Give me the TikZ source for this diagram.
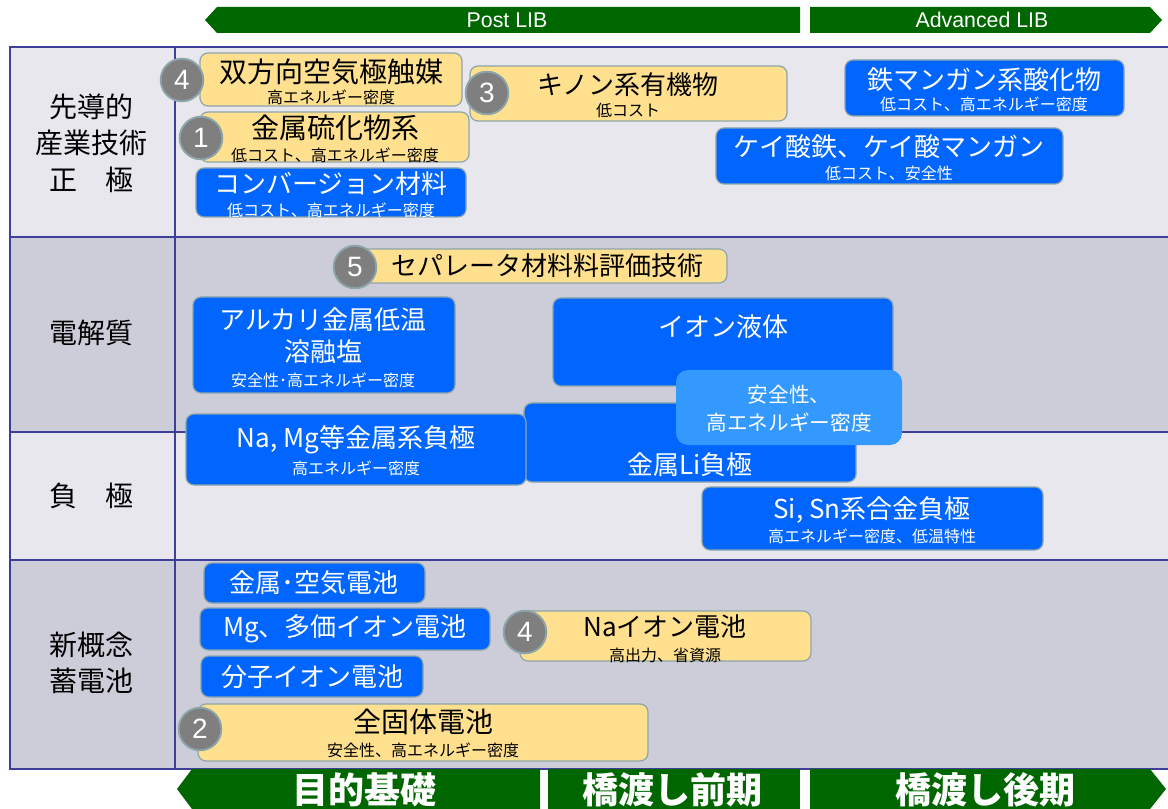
\documentclass[tikz,border=0pt]{standalone}
\usepackage{fontspec}
\setmainfont{Liberation Sans}
\newfontfamily\jp{Noto Sans CJK JP}
\usetikzlibrary{fit}

\definecolor{rowlight}{HTML}{E8E7EE}
\definecolor{rowdark}{HTML}{CDCDD9}
\definecolor{gridline}{HTML}{3F3F99}
\definecolor{bargreen}{HTML}{006600}
\definecolor{ybox}{HTML}{FFE08E}
\definecolor{bbox}{HTML}{0066FF}
\definecolor{lbox}{HTML}{3399FF}
\definecolor{edge}{HTML}{8CA5AA}
\definecolor{numfill}{HTML}{7F7F7F}

\begin{document}
\begin{tikzpicture}[x=0.75pt,y=-0.75pt,
  yb/.style={rectangle,rounded corners=6pt,draw=edge,fill=ybox,line width=0.9pt,inner sep=0pt},
  bb/.style={rectangle,rounded corners=6pt,draw=edge,fill=bbox,line width=0.9pt,inner sep=0pt},
  lb/.style={rectangle,rounded corners=9pt,fill=lbox,inner sep=0pt},
  num/.style={circle,draw=edge,fill=numfill,line width=1.4pt,minimum size=32pt,inner sep=0pt,
    text=white,font=\fontsize{21}{22}\selectfont},
  ttl/.style={font=\jp\fontsize{19.5}{24}\selectfont,align=center},
  bigttl/.style={font=\jp\fontsize{21}{24}\selectfont},
  sub/.style={font=\jp\fontsize{12}{14}\selectfont},
  head/.style={font=\jp\fontsize{21}{27.5}\selectfont,align=center},
  bar/.style={text=white,font=\fontsize{16}{18}\selectfont},
  bigbar/.style={text=white,font=\jp\bfseries\fontsize{27}{30}\selectfont},
  grid/.style={draw=gridline,line width=1.5pt}]

  \useasboundingbox (0,0) rectangle (1168,809);

  % rows
  \fill[rowlight] (10,47) rectangle (1168,237);
  \fill[rowdark] (10,237) rectangle (1168,432);
  \fill[rowlight] (10,432) rectangle (1168,560);
  \fill[rowdark] (10,560) rectangle (1168,769);
  \foreach \y in {237,432,560}
    \draw[grid] (10,\y) -- (1168,\y);
  \draw[grid] (1168,47) -- (10,47) -- (10,769) -- (1168,769);
  \draw[grid] (175,47) -- (175,769);

  % top bars
  \fill[bargreen] (205,20) -- (217,7) -- (800,7) -- (800,33) -- (217,33) -- cycle;
  \fill[bargreen] (810,7) -- (1150,7) -- (1162,20) -- (1150,33) -- (810,33) -- cycle;
  \node[bar] (postlib) at (507,20) {Post LIB};
  \node[bar] (advlib) at (982,20) {Advanced LIB};

  % bottom bars
  \fill[bargreen] (177,789) -- (192,769) -- (540,769) -- (540,809) -- (192,809) -- cycle;
  \fill[bargreen] (548,769) rectangle (800,809);
  \fill[bargreen] (810,769) -- (1150,769) -- (1166,789) -- (1150,809) -- (810,809) -- cycle;
  \node[bigbar] (basic) at (364,790) {目的基礎};
  \node[bigbar] (early) at (672,790) {橋渡し前期};
  \node[bigbar] (late) at (985,790) {橋渡し後期};

  % row heads
  \node[head] (poshead) at (92,143) {先導的\\産業技術\\正　極};
  \node[head] (elechead) at (92,333) {電解質};
  \node[head] (neghead) at (92,496) {負　極};
  \node[head] (newhead) at (92,663) {新概念\\蓄電池};

  % positive electrode
  \node[yb,fit={(200,53) (462,106)}] (catalyst) {};
  \node[bigttl] (catalystT) at (331,72) {双方向空気極触媒};
  \node[sub] (catalystS) at (331,97) {高エネルギー密度};
  \node[num] (n4a) at (182,80) {4};

  \node[yb,fit={(470,66) (787,121)}] (quinone) {};
  \node[ttl] (quinoneT) at (628,85) {キノン系有機物};
  \node[sub] (quinoneS) at (628,110) {低コスト};
  \node[num] (n3) at (487,93) {3};

  \node[yb,fit={(200,112) (469,162)}] (sulfide) {};
  \node[bigttl] (sulfideT) at (335,128) {金属硫化物系};
  \node[sub] (sulfideS) at (335,155) {低コスト、高エネルギー密度};
  \node[num] (n1) at (201,138) {1};

  \node[bb,fit={(196,168) (466,217)}] (conversion) {};
  \node[ttl,text=white] (conversionT) at (331,184) {コンバージョン材料};
  \node[sub,text=white] (conversionS) at (331,210) {低コスト、高エネルギー密度};

  \node[bb,fit={(845,60) (1124,116)}] (femn) {};
  \node[ttl,text=white] (femnT) at (984,80) {鉄マンガン系酸化物};
  \node[sub,text=white] (femnS) at (984,104) {低コスト、高エネルギー密度};

  \node[bb,fit={(716,128) (1063,184)}] (silicate) {};
  \node[ttl,text=white] (silicateT) at (889,147) {ケイ酸鉄、ケイ酸マンガン};
  \node[sub,text=white] (silicateS) at (889,173) {低コスト、安全性};

  % electrolyte
  \node[yb,fit={(355,249) (727,283)}] (separator) {};
  \node[ttl] (separatorT) at (547,266) {セパレータ材料料評価技術};
  \node[num] (n5) at (355,267) {5};

  \node[bb,fit={(193,297) (455,393)}] (molten) {};
  \node[ttl,text=white] (moltenT) at (323,336) {アルカリ金属低温\\溶融塩};
  \node[sub,text=white] (moltenS) at (323,380) {安全性･高エネルギー密度};

  \node[bb,fit={(553,298) (893,386)}] (ionliq) {};
  \node[ttl,text=white] (ionliqT) at (723,327) {イオン液体};

  % negative electrode
  \node[bb,fit={(524,403) (856,482)}] (lineg) {};
  \node[ttl,text=white] (linegT) at (690,465) {金属Li負極};

  \node[bb,fit={(186,414) (526,485)}] (namg) {};
  \node[ttl,text=white] (namgT) at (356,440) {Na, Mg等金属系負極};
  \node[sub,text=white] (namgS) at (356,468) {高エネルギー密度};

  \node[lb,fit={(676,370) (902,445)}] (common) {};
  \node[font=\jp\fontsize{15.5}{21}\selectfont,text=white,align=center] (commonT) at (789,409) {安全性、\\高エネルギー密度};

  \node[bb,fit={(702,487) (1043,550)}] (sisn) {};
  \node[ttl,text=white] (sisnT) at (872,510) {Si, Sn系合金負極};
  \node[sub,text=white] (sisnS) at (872,536) {高エネルギー密度、低温特性};

  % new batteries
  \node[bb,fit={(204,563) (425,603)}] (metalair) {};
  \node[ttl,text=white] (metalairT) at (314,583) {金属･空気電池};

  \node[bb,fit={(200,608) (490,650)}] (multival) {};
  \node[ttl,text=white] (multivalT) at (345,629) {Mg、多価イオン電池};

  \node[bb,fit={(201,656) (423,697)}] (molion) {};
  \node[ttl,text=white] (molionT) at (312,677) {分子イオン電池};

  \node[yb,fit={(520,611) (811,661)}] (naion) {};
  \node[ttl] (naionT) at (665,627) {Naイオン電池};
  \node[sub] (naionS) at (665,655) {高出力、省資源};
  \node[num] (n4b) at (525,632) {4};

  \node[yb,fit={(198,704) (648,761)}] (solid) {};
  \node[bigttl] (solidT) at (423,722) {全固体電池};
  \node[sub] (solidS) at (423,750) {安全性、高エネルギー密度};
  \node[num] (n2) at (200,729) {2};
\end{tikzpicture}
\end{document}
